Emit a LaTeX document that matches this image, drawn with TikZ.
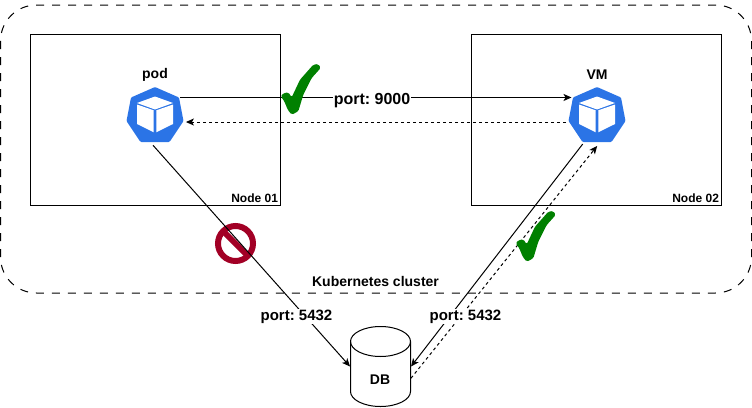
\documentclass[tikz,border=0pt]{standalone}
\usepackage{fontspec}
\setmainfont{Liberation Sans}
\frenchspacing
\usetikzlibrary{positioning,arrows.meta}
\definecolor{kubeblue}{HTML}{2B74E6}
\definecolor{okgreen}{HTML}{008000}
\definecolor{stopred}{HTML}{A20025}

\begin{document}
\begin{tikzpicture}[
  x=1pt,y=-1pt,
  font=\fontsize{14}{16}\selectfont\bfseries,
  line width=1pt,
  >={Stealth[length=8pt,width=7pt,inset=2pt]},
  box/.style={draw,minimum width=250,minimum height=171,inner sep=0pt},
  icon/.style={circle,minimum size=62,inner sep=0pt},
  lbl/.style={inner sep=1pt,fill=white,font=\fontsize{15}{17}\selectfont\bfseries},
  small/.style={font=\fontsize{12}{14}\selectfont\bfseries,inner sep=2pt},
  dbbox/.style={minimum width=60,minimum height=80,inner sep=0pt},
  dsh/.style={dash pattern=on 3pt off 3pt},
  kube/.pic={
    \fill[kubeblue,rounded corners=1pt] (0,-29) -- (24,-18.5) -- (28.5,5) -- (14.5,26) -- (-14.5,26) -- (-28.5,5) -- (-24,-18.5) -- cycle;
    \fill[white] (0,-19.5) -- (18,-13) -- (0,-6.5) -- (-18,-13) -- cycle;
    \fill[white] (-18,-11.5) -- (-1.3,-5.7) -- (-1.3,16.3) -- (-18,8) -- cycle;
    \fill[white] (18,-11.5) -- (1.3,-5.7) -- (1.3,16.3) -- (18,8) -- cycle;
  },
  tick/.pic={
    \fill[okgreen,rounded corners=1.5pt] (0.7,32.3) -- (3.3,29.3) -- (8.3,28.3) -- (11.7,33.3) -- (20,15.7) -- (33.3,0.7) -- (38.3,0) -- (40.7,4) -- (31.7,14) -- (23.3,30.7) -- (18.3,47.3) -- (11.7,50.7) -- (7.7,45.7) -- (4.3,37.3) -- cycle;
  }
]
\useasboundingbox (0,0) rectangle (752,407);
% cluster and the two worker nodes
\draw[dash pattern=on 8pt off 8pt,rounded corners=36] (0.5,5) rectangle (751.5,293);
\node[box] (n1) at (155,119.5) {};
\node[box] (n2) at (596,119.5) {};
\node[small,anchor=south east] (n1l) at (n1.south east) {Node 01};
\node[small,anchor=south east] (n2l) at (n2.south east) {Node 02};
\node[inner sep=1pt] (cl) at (375.5,281) {Kubernetes cluster};

\node[icon] (pod) at (155,116) {};
\node[icon] (vm) at (597,116) {};
\pic at (pod.center) {kube};
\pic at (vm.center) {kube};
\node[inner sep=1pt,above=41pt of pod.center,anchor=center] (podl) {pod};
\node[inner sep=1pt,above=41pt of vm.center,anchor=center] (vml) {VM};

% database
\node[dbbox] (db) at (380.5,366.5) {};
\node[inner sep=1pt] (dbl) at (380,380) {DB};
\draw (350.5,341.5) .. controls (350.5,333.2) and (364,326.5) .. (380.5,326.5)
  .. controls (397,326.5) and (410.5,333.2) .. (410.5,341.5) -- (410.5,391.5)
  .. controls (410.5,399.8) and (397,406.5) .. (380.5,406.5)
  .. controls (364,406.5) and (350.5,399.8) .. (350.5,391.5) -- cycle;
\draw (350.5,341.5) .. controls (350.5,349.8) and (364,356.5) .. (380.5,356.5)
  .. controls (397,356.5) and (410.5,349.8) .. (410.5,341.5);

% stop sign
\draw[stopred,line width=6pt] (235.5,243.5) circle (17.5);
\draw[stopred,line width=6pt] (223.1,231.1) -- (247.9,255.9);

\draw[->] (pod.36) -- (vm.144);
\draw[->,dsh] (vm.191) -- (pod.-11);
\draw[->,shorten <=-3pt] (pod.-90) -- (db.west);
\draw[->] (vm.243) -- (db.east);
\draw[->,dsh,shorten >=-2pt] (db.-21.5) -- (vm.268);

\node[lbl,font=\fontsize{16}{18}\selectfont\bfseries] (p9000) at (372,100.5) {port: 9000};
\node[lbl] (p5432a) at (296.5,316.5) {port: 5432};
\node[lbl] (p5432b) at (465.5,316.5) {port: 5432};

\pic at (280,64) {tick};
\pic at (515,211) {tick};
\end{tikzpicture}
\end{document}
